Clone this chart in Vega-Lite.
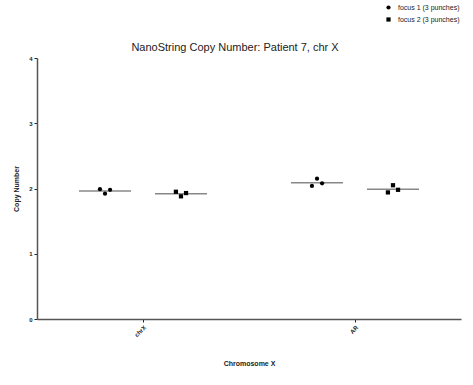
{
  "$schema": "https://vega.github.io/schema/vega-lite/v6.json",
  "width": 424,
  "height": 261,
  "autosize": "none",
  "padding": {"left": 37, "top": 58, "right": 12, "bottom": 66},
  "background": "white",
  "config": {
    "view": {"stroke": null},
    "font": "Liberation Sans"
  },
  "title": {
    "text": "NanoString Copy Number: Patient 7, chr X",
    "fontSize": 11,
    "fontWeight": "normal",
    "color": "#222",
    "offset": 6,
    "dy": 55,
    "dx": -14,
    "anchor": "middle"
  },
  "datasets": {
    "points": [
      {"gene": "chrX", "focus": "focus 1 (3 punches)", "slot": "1a", "cn": 1.99},
      {"gene": "chrX", "focus": "focus 1 (3 punches)", "slot": "1b", "cn": 1.92},
      {"gene": "chrX", "focus": "focus 1 (3 punches)", "slot": "1c", "cn": 1.98},
      {"gene": "chrX", "focus": "focus 2 (3 punches)", "slot": "2a", "cn": 1.95},
      {"gene": "chrX", "focus": "focus 2 (3 punches)", "slot": "2b", "cn": 1.88},
      {"gene": "chrX", "focus": "focus 2 (3 punches)", "slot": "2c", "cn": 1.93},
      {"gene": "AR", "focus": "focus 1 (3 punches)", "slot": "1a", "cn": 2.04},
      {"gene": "AR", "focus": "focus 1 (3 punches)", "slot": "1b", "cn": 2.15},
      {"gene": "AR", "focus": "focus 1 (3 punches)", "slot": "1c", "cn": 2.08},
      {"gene": "AR", "focus": "focus 2 (3 punches)", "slot": "2a", "cn": 1.94},
      {"gene": "AR", "focus": "focus 2 (3 punches)", "slot": "2b", "cn": 2.05},
      {"gene": "AR", "focus": "focus 2 (3 punches)", "slot": "2c", "cn": 1.98}
    ],
    "medians": [
      {"gene": "chrX", "focus": "focus 1 (3 punches)", "cn": 1.96},
      {"gene": "chrX", "focus": "focus 2 (3 punches)", "cn": 1.92},
      {"gene": "AR", "focus": "focus 1 (3 punches)", "cn": 2.09},
      {"gene": "AR", "focus": "focus 2 (3 punches)", "cn": 1.99}
    ]
  },
  "encoding": {
    "x": {
      "field": "gene",
      "type": "nominal",
      "sort": ["chrX", "AR"],
      "scale": {"padding": 0},
      "axis": {
        "title": "Chromosome X",
        "titleFontSize": 7,
        "titleFontWeight": "bold",
        "titleColor": "#222",
        "titlePadding": 22,
        "labelAngle": -45,
        "labelAlign": "right",
        "labelBaseline": "top",
        "labelFontSize": 6,
        "labelFontWeight": "bold",
        "labelColor": "#222",
        "labelPadding": 2,
        "domainColor": "#555",
        "domainWidth": 1.5,
        "tickColor": "#222",
        "tickSize": 3,
        "tickBand": "center"
      }
    },
    "y": {
      "field": "cn",
      "type": "quantitative",
      "scale": {"domain": [0, 4], "nice": false},
      "axis": {
        "title": "Copy Number",
        "titleFontSize": 7,
        "titleFontWeight": "bold",
        "titleColor": "#222",
        "titlePadding": 9,
        "values": [0, 1, 2, 3, 4],
        "format": "d",
        "labelFontSize": 6,
        "labelFontWeight": "bold",
        "labelColor": "#222",
        "labelPadding": 2,
        "grid": false,
        "domainColor": "#555",
        "domainWidth": 1.5,
        "tickColor": "#222",
        "tickSize": 3
      }
    }
  },
  "layer": [
    {
      "data": {"name": "medians"},
      "mark": {"type": "tick", "orient": "horizontal", "size": 52, "thickness": 1.5, "color": "#555"},
      "encoding": {
        "xOffset": {
          "field": "focus",
          "type": "nominal",
          "scale": {"type": "point", "padding": 0.895}
        }
      }
    },
    {
      "data": {"name": "points"},
      "mark": {"type": "point", "filled": true, "size": 18, "opacity": 1, "color": "black"},
      "encoding": {
        "xOffset": {
          "field": "slot",
          "type": "nominal",
          "scale": {
            "type": "point",
            "domain": ["s1", "s2", "s3", "s4", "s5", "s6", "s7", "s8", "s9", "s10", "s11", "s12",
                       "1a", "1b", "1c",
                       "g1", "g2", "g3", "g4", "g5", "g6", "g7", "g8", "g9", "g10", "g11", "g12",
                       "2a", "2b", "2c",
                       "t1", "t2", "t3", "t4", "t5", "t6", "t7", "t8", "t9", "t10", "t11", "t12"],
            "padding": 0.43
          }
        },
        "shape": {
          "field": "focus",
          "type": "nominal",
          "scale": {"range": ["circle", "square"]},
          "legend": {
            "title": null,
            "orient": "none",
            "legendX": 348,
            "legendY": -54,
            "labelFontSize": 7,
            "labelColor": "#222",
            "symbolSize": 18,
            "symbolFillColor": "black",
            "symbolStrokeColor": "black",
            "rowPadding": 1,
            "labelOffset": 6
          }
        }
      }
    }
  ],
  "resolve": {"scale": {"xOffset": "independent"}}
}
